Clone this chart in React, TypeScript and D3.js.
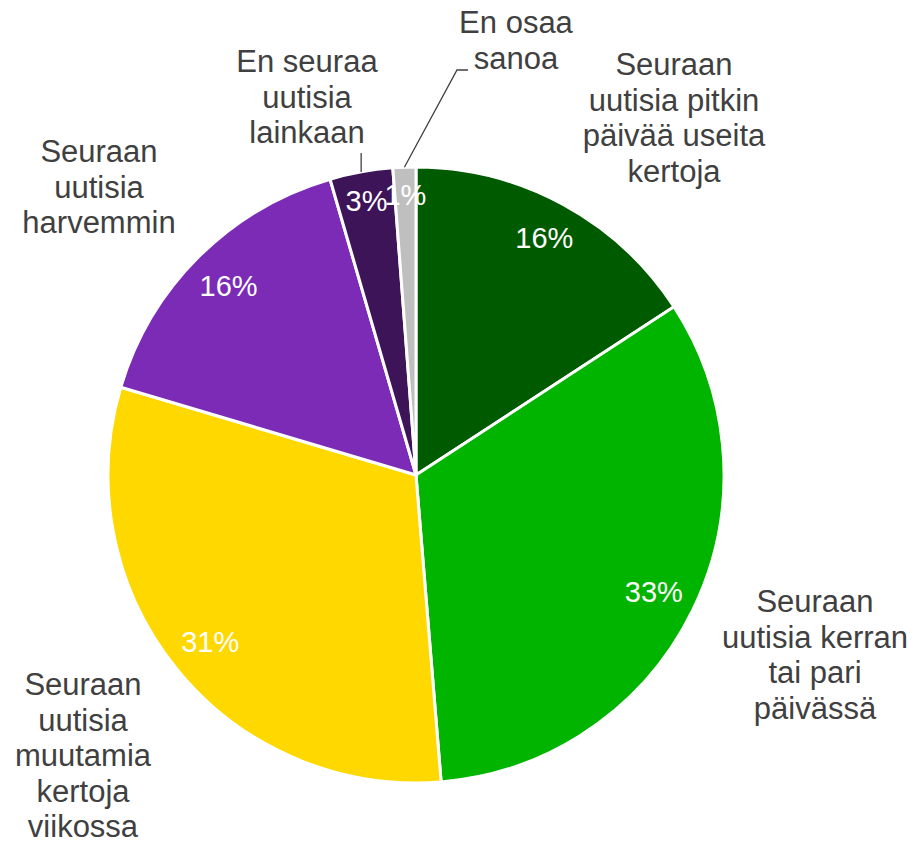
import React from 'react';
import * as d3 from 'd3';

// survey shares, clockwise from 12 o'clock
const categories = [
  'Seuraan uutisia pitkin päivää useita kertoja',
  'Seuraan uutisia kerran tai pari päivässä',
  'Seuraan uutisia muutamia kertoja viikossa',
  'Seuraan uutisia harvemmin',
  'En seuraa uutisia lainkaan',
  'En osaa sanoa'
];
const values = [15.8, 32.9, 30.9, 15.9, 3.3, 1.2];
const valueLabels = ['16%', '33%', '31%', '16%', '3%', '1%'];
const labelLines = [
  ['Seuraan', 'uutisia pitkin', 'päivää useita', 'kertoja'],
  ['Seuraan', 'uutisia kerran', 'tai pari', 'päivässä'],
  ['Seuraan', 'uutisia', 'muutamia', 'kertoja', 'viikossa'],
  ['Seuraan', 'uutisia', 'harvemmin'],
  ['En seuraa', 'uutisia', 'lainkaan'],
  ['En osaa', 'sanoa']
];
const colors = ['#005a00', '#00b400', '#ffd800', '#7b2bb6', '#3e1459', '#bfbfbf'];

const W = 917;
const H = 845;
const cx = 416;
const cy = 475;
const R = 308;

// label block placement: center x, first baseline y
const labelPos = [
  [674, 75],
  [815, 612],
  [83, 695],
  [99, 162],
  [307, 72],
  [516, 33]
];
const lineH = 35.5;
const font = '"Liberation Sans", Arial, sans-serif';
const pctSize = 29;

export default function App() {
  const data = categories.map((c, i) => ({name: c, value: values[i], i}));
  const pie = d3.pie<any>().value(d => d.value).sort(null);
  const arcs = pie(data);
  const arc = d3.arc<any>().innerRadius(0).outerRadius(R);

  const mid = (a: any) => (a.startAngle + a.endAngle) / 2;
  const edge = (a: any) => [Math.sin(mid(a)) * R, -Math.cos(mid(a)) * R];

  // "inside end" placement: push label box out until its far corner nears the rim
  const pctPos = (a: any, txt: string) => {
    const m = mid(a);
    const dx = Math.sin(m);
    const dy = -Math.cos(m);
    const hw = txt.length * pctSize * 0.33;
    const hh = pctSize * 0.58;
    const r = 298 - (hw * Math.abs(dx) + hh * Math.abs(dy));
    return [dx * r, dy * r];
  };

  const e5 = edge(arcs[4]);
  const e6 = edge(arcs[5]);

  return (
    <div style={{position: 'absolute', left: 0, top: 0}}>
      <svg width={W} height={H} style={{display: 'block', fontFamily: font}}>
        <rect width={W} height={H} fill="#fff"/>
        <g transform={`translate(${cx},${cy})`}>
          {arcs.map((a, i) => (
            <path key={i} d={arc(a) as string} fill={colors[i]} stroke="#fff" strokeWidth={3}/>
          ))}
          {arcs.map((a, i) => {
            const [x, y] = pctPos(a, valueLabels[i]);
            return (
              <text key={i} x={x} y={y} fill="#fff" fontSize={pctSize} textAnchor="middle"
                    dominantBaseline="central">{valueLabels[i]}</text>
            );
          })}
          <path d={`M${e5[0]},${e5[1]}V${153 - cy}`} stroke="#404040" strokeWidth={1.3} fill="none"/>
          <path d={`M${e6[0]},${e6[1]}L${457 - cx},${70 - cy}H${468 - cx}`} stroke="#404040"
                strokeWidth={1.3} fill="none"/>
        </g>
        {labelLines.map((lines, i) => (
          <text key={i} fill="#404040" fontSize={31} textAnchor="middle">
            {lines.map((l, j) => (
              <tspan key={j} x={labelPos[i][0]} y={labelPos[i][1] + j * lineH}>{l}</tspan>
            ))}
          </text>
        ))}
      </svg>
    </div>
  );
}
